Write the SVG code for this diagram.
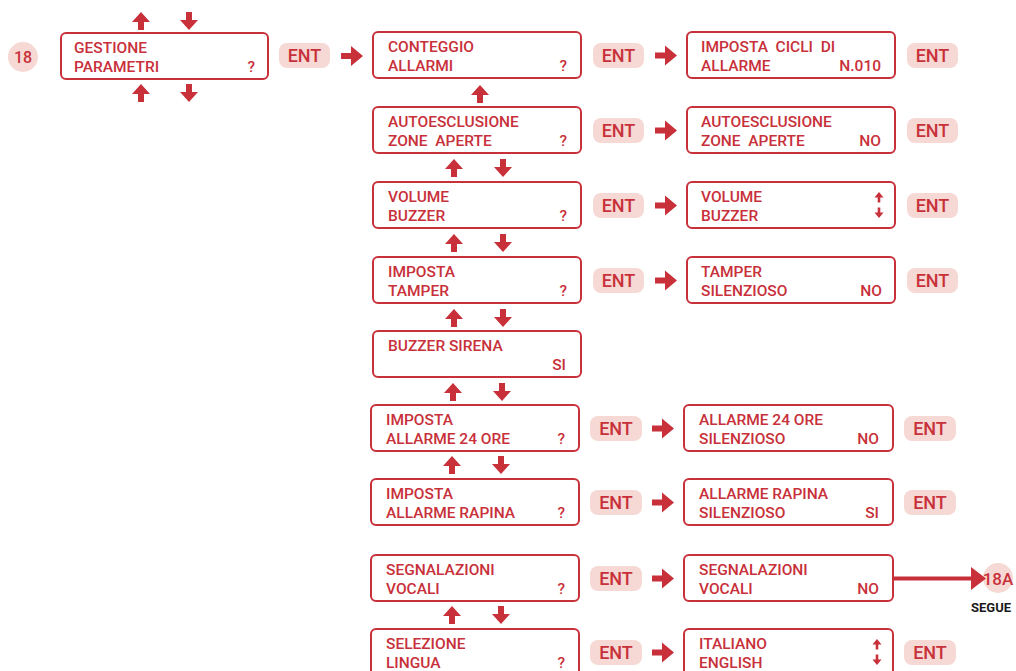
<svg xmlns="http://www.w3.org/2000/svg" width="1016" height="671" viewBox="0 0 1016 671">
<style>
.box{fill:#fff;stroke:#c8303a;stroke-width:2}
.pill{fill:#f6d9d4}
.t{font-family:Roboto,"Liberation Sans",sans-serif;font-weight:500;font-size:15.5px;fill:#c8303a;white-space:pre}
.e{font-family:Roboto,"Liberation Sans",sans-serif;font-weight:500;font-size:18px;fill:#c8303a;text-anchor:middle}
.r{text-anchor:end}
.a{fill:#c8303a}
.sg{font-family:Roboto,"Liberation Sans",sans-serif;font-weight:700;font-size:13px;fill:#1a1a1a;text-anchor:middle}
</style>
<defs>
<path id="up" d="M0,0 L9,10 L3,10 L3,18 L-3,18 L-3,10 L-9,10 Z"/>
<path id="dn" d="M0,18 L9,8 L3,8 L3,0 L-3,0 L-3,8 L-9,8 Z"/>
<path id="rt" d="M22,0 L10,-10 L10,-3 L0,-3 L0,3 L10,3 L10,10 Z"/>
<path id="ud" d="M0,0 L4.5,5.5 L1.3,5.5 L1.3,10.5 L-1.3,10.5 L-1.3,5.5 L-4.5,5.5 Z M0,26 L4.5,20.5 L1.3,20.5 L1.3,15.5 L-1.3,15.5 L-1.3,20.5 L-4.5,20.5 Z"/>
</defs>

<g id="n18">
<circle cx="23" cy="57" r="15" class="pill"/>
<text x="23" y="63" class="e" style="font-size:16px">18</text>
</g>

<g id="gestione">
<rect x="61" y="33" width="207" height="46" rx="5" class="box"/>
<text x="74" y="52.5" class="t">GESTIONE</text>
<text x="74" y="71.5" class="t">PARAMETRI</text>
<text x="255" y="71.5" class="t r">?</text>
</g>
<g id="ent0">
<rect x="279" y="43" width="51" height="25" rx="8" class="pill"/>
<text x="304.5" y="62" class="e">ENT</text>
</g>

<!-- column 2 -->
<g id="c2r1">
<rect x="373" y="32" width="208" height="46" rx="5" class="box"/>
<text x="388" y="51.5" class="t">CONTEGGIO</text>
<text x="388" y="70.5" class="t">ALLARMI</text>
<text x="567" y="70.5" class="t r">?</text>
</g>
<g id="c2r2">
<rect x="373" y="107" width="208" height="46" rx="5" class="box"/>
<text x="388" y="126.5" class="t">AUTOESCLUSIONE</text>
<text x="388" y="145.5" class="t">ZONE  APERTE</text>
<text x="567" y="145.5" class="t r">?</text>
</g>
<g id="c2r3">
<rect x="373" y="182" width="208" height="46" rx="5" class="box"/>
<text x="388" y="201.5" class="t">VOLUME</text>
<text x="388" y="220.5" class="t">BUZZER</text>
<text x="567" y="220.5" class="t r">?</text>
</g>
<g id="c2r4">
<rect x="373" y="257" width="208" height="46" rx="5" class="box"/>
<text x="388" y="276.5" class="t">IMPOSTA</text>
<text x="388" y="295.5" class="t">TAMPER</text>
<text x="567" y="295.5" class="t r">?</text>
</g>
<g id="c2r5">
<rect x="373" y="331" width="208" height="46" rx="5" class="box"/>
<text x="388" y="350.5" class="t">BUZZER SIRENA</text>
<text x="566" y="369.5" class="t r">SI</text>
</g>
<g id="c2r6">
<rect x="371" y="405" width="208" height="46" rx="5" class="box"/>
<text x="386" y="424.5" class="t">IMPOSTA</text>
<text x="386" y="443.5" class="t">ALLARME 24 ORE</text>
<text x="565" y="443.5" class="t r">?</text>
</g>
<g id="c2r7">
<rect x="371" y="479" width="208" height="46" rx="5" class="box"/>
<text x="386" y="498.5" class="t">IMPOSTA</text>
<text x="386" y="517.5" class="t">ALLARME RAPINA</text>
<text x="565" y="517.5" class="t r">?</text>
</g>
<g id="c2r8">
<rect x="371" y="555" width="208" height="46" rx="5" class="box"/>
<text x="386" y="574.5" class="t">SEGNALAZIONI</text>
<text x="386" y="593.5" class="t">VOCALI</text>
<text x="565" y="593.5" class="t r">?</text>
</g>
<g id="c2r9">
<rect x="371" y="629" width="208" height="46" rx="5" class="box"/>
<text x="386" y="648.5" class="t">SELEZIONE</text>
<text x="386" y="667.5" class="t">LINGUA</text>
<text x="565" y="667.5" class="t r">?</text>
</g>

<!-- ENT column 2 -->
<g id="ent2">
<rect x="593" y="43" width="51" height="25" rx="8" class="pill"/><text x="618.5" y="62" class="e">ENT</text>
<rect x="593" y="118" width="51" height="25" rx="8" class="pill"/><text x="618.5" y="137" class="e">ENT</text>
<rect x="593" y="193" width="51" height="25" rx="8" class="pill"/><text x="618.5" y="212" class="e">ENT</text>
<rect x="593" y="268" width="51" height="25" rx="8" class="pill"/><text x="618.5" y="287" class="e">ENT</text>
<rect x="590" y="416" width="52" height="25" rx="8" class="pill"/><text x="616" y="435" class="e">ENT</text>
<rect x="590" y="490" width="52" height="25" rx="8" class="pill"/><text x="616" y="509" class="e">ENT</text>
<rect x="590" y="566" width="52" height="25" rx="8" class="pill"/><text x="616" y="585" class="e">ENT</text>
<rect x="590" y="640" width="52" height="25" rx="8" class="pill"/><text x="616" y="659" class="e">ENT</text>
</g>

<!-- column 3 -->
<g id="c3r1">
<rect x="687" y="32" width="208" height="46" rx="5" class="box"/>
<text x="701" y="51.5" class="t">IMPOSTA  CICLI  DI</text>
<text x="701" y="70.5" class="t">ALLARME</text>
<text x="881" y="70.5" class="t r">N.010</text>
</g>
<g id="c3r2">
<rect x="687" y="107" width="208" height="46" rx="5" class="box"/>
<text x="701" y="126.5" class="t">AUTOESCLUSIONE</text>
<text x="701" y="145.5" class="t">ZONE  APERTE</text>
<text x="881" y="145.5" class="t r">NO</text>
</g>
<g id="c3r3">
<rect x="687" y="182" width="208" height="46" rx="5" class="box"/>
<text x="701" y="201.5" class="t">VOLUME</text>
<text x="701" y="220.5" class="t">BUZZER</text>
<use href="#ud" x="879" y="192" class="a"/>
</g>
<g id="c3r4">
<rect x="687" y="257" width="208" height="46" rx="5" class="box"/>
<text x="701" y="276.5" class="t">TAMPER</text>
<text x="701" y="295.5" class="t">SILENZIOSO</text>
<text x="882" y="295.5" class="t r">NO</text>
</g>
<g id="c3r6">
<rect x="684" y="405" width="209" height="46" rx="5" class="box"/>
<text x="699" y="424.5" class="t">ALLARME 24 ORE</text>
<text x="699" y="443.5" class="t">SILENZIOSO</text>
<text x="879" y="443.5" class="t r">NO</text>
</g>
<g id="c3r7">
<rect x="684" y="479" width="209" height="46" rx="5" class="box"/>
<text x="699" y="498.5" class="t">ALLARME RAPINA</text>
<text x="699" y="517.5" class="t">SILENZIOSO</text>
<text x="879" y="517.5" class="t r">SI</text>
</g>
<g id="c3r8">
<rect x="684" y="555" width="209" height="46" rx="5" class="box"/>
<text x="699" y="574.5" class="t">SEGNALAZIONI</text>
<text x="699" y="593.5" class="t">VOCALI</text>
<text x="879" y="593.5" class="t r">NO</text>
</g>
<g id="c3r9">
<rect x="684" y="629" width="209" height="46" rx="5" class="box"/>
<text x="699" y="648.5" class="t">ITALIANO</text>
<text x="699" y="667.5" class="t">ENGLISH</text>
<use href="#ud" x="877" y="639" class="a"/>
</g>

<!-- ENT column 3 -->
<g id="ent3">
<rect x="907" y="43" width="51" height="25" rx="8" class="pill"/><text x="932.5" y="62" class="e">ENT</text>
<rect x="907" y="118" width="51" height="25" rx="8" class="pill"/><text x="932.5" y="137" class="e">ENT</text>
<rect x="907" y="193" width="51" height="25" rx="8" class="pill"/><text x="932.5" y="212" class="e">ENT</text>
<rect x="907" y="268" width="51" height="25" rx="8" class="pill"/><text x="932.5" y="287" class="e">ENT</text>
<rect x="904" y="416" width="52" height="25" rx="8" class="pill"/><text x="930" y="435" class="e">ENT</text>
<rect x="904" y="490" width="52" height="25" rx="8" class="pill"/><text x="930" y="509" class="e">ENT</text>
<rect x="904" y="640" width="52" height="25" rx="8" class="pill"/><text x="930" y="659" class="e">ENT</text>
</g>

<g id="n18a">
<circle cx="998" cy="578" r="15" class="pill"/>
<text x="998" y="584.5" class="e" style="font-size:17px">18A</text>
<text x="991" y="612" class="sg">SEGUE</text>
</g>

<g id="connectors" class="a">
<use href="#up" x="141" y="12"/><use href="#dn" x="189" y="12"/>
<use href="#up" x="141" y="84"/><use href="#dn" x="189" y="84"/>
<use href="#rt" x="341" y="56"/>
<use href="#rt" x="655" y="55.5"/>
<use href="#rt" x="655" y="130.5"/>
<use href="#rt" x="655" y="205.5"/>
<use href="#rt" x="655" y="280.5"/>
<use href="#rt" x="652" y="428.5"/>
<use href="#rt" x="652" y="502.5"/>
<use href="#rt" x="652" y="578.5"/>
<use href="#rt" x="652" y="652.5"/>
<use href="#up" x="480" y="85"/>
<use href="#up" x="454" y="159"/><use href="#dn" x="503" y="159"/>
<use href="#up" x="454" y="234"/><use href="#dn" x="503" y="234"/>
<use href="#up" x="454" y="309"/><use href="#dn" x="503" y="309"/>
<use href="#up" x="453" y="383"/><use href="#dn" x="502" y="383"/>
<use href="#up" x="452" y="456"/><use href="#dn" x="501" y="456"/>
<use href="#up" x="452" y="606"/><use href="#dn" x="501" y="606"/>
<path d="M893,578.5 L974,578.5" stroke="#c8303a" stroke-width="4" fill="none"/>
<path d="M986,578.5 L971,567 L971,590 Z"/>
</g>
</svg>
